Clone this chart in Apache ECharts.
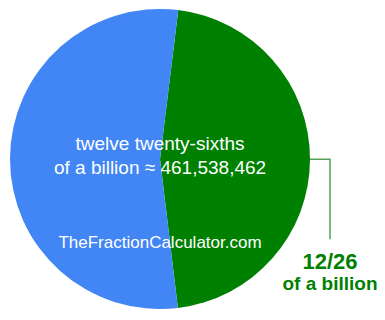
<!DOCTYPE html>
<html><head><meta charset="utf-8">
<script src="https://cdn.jsdelivr.net/npm/echarts@6/dist/echarts.min.js"></script>
<style>html,body{margin:0;padding:0;background:#fff}#c{width:385px;height:320px}</style>
</head><body><div id="c"></div>
<script>
const names = ['12/26', '14/26'];
const values = [12, 14];
const colors = ['#008000', '#4285f4'];
const centerLines = ['twelve twenty-sixths', 'of a billion \u2248 461,538,462'];
const siteText = 'TheFractionCalculator.com';
const labelSub = 'of a billion';

const chart = echarts.init(document.getElementById('c'), null, {renderer: 'svg'});
const F = '"Liberation Sans", Arial, sans-serif';
chart.setOption({
  animation: false,
  series: [{
    type: 'pie',
    center: [160, 159],
    radius: [0, 150],
    startAngle: 83,
    clockwise: true,
    silent: true,
    data: names.map((n, i) => ({
      name: n, value: values[i],
      itemStyle: {color: colors[i]},
      label: i === 0 ? {
        show: true,
        overflow: 'none',
        formatter: '{a|' + n + '}\n{b|' + labelSub + '}',
        rich: {
          a: {fontFamily: F, fontSize: 22, fontWeight: 'bold', color: '#008000', align: 'center', lineHeight: 23},
          b: {fontFamily: F, fontSize: 19, fontWeight: 'bold', color: '#008000', align: 'center', lineHeight: 20}
        }
      } : {show: false},
      labelLine: i === 0 ? {show: true, lineStyle: {color: '#55a055', width: 1.5}} : {show: false}
    })),
    labelLine: {length: 20, length2: 0, smooth: false},
    labelLayout: function (p) {
      if (!p.labelLinePoints) return {};
      const p0 = p.labelLinePoints[0];
      const x = p0[0] + 20, y = p0[1] + 80;
      return {
        x: x, y: y + 11, align: 'center', verticalAlign: 'top',
        labelLinePoints: [p0, [x, p0[1]], [x, y]]
      };
    }
  }],
  graphic: [
    {type: 'text', x: 160, y: 131, z: 100, style: {text: centerLines[0] + '\n' + centerLines[1], textAlign: 'center', fill: '#fff', fontSize: 19, fontFamily: F, lineHeight: 24.5}},
    {type: 'text', x: 160, y: 234, z: 100, style: {text: siteText, textAlign: 'center', fill: '#fff', fontSize: 17, fontFamily: F}}
  ]
});
</script></body></html>
